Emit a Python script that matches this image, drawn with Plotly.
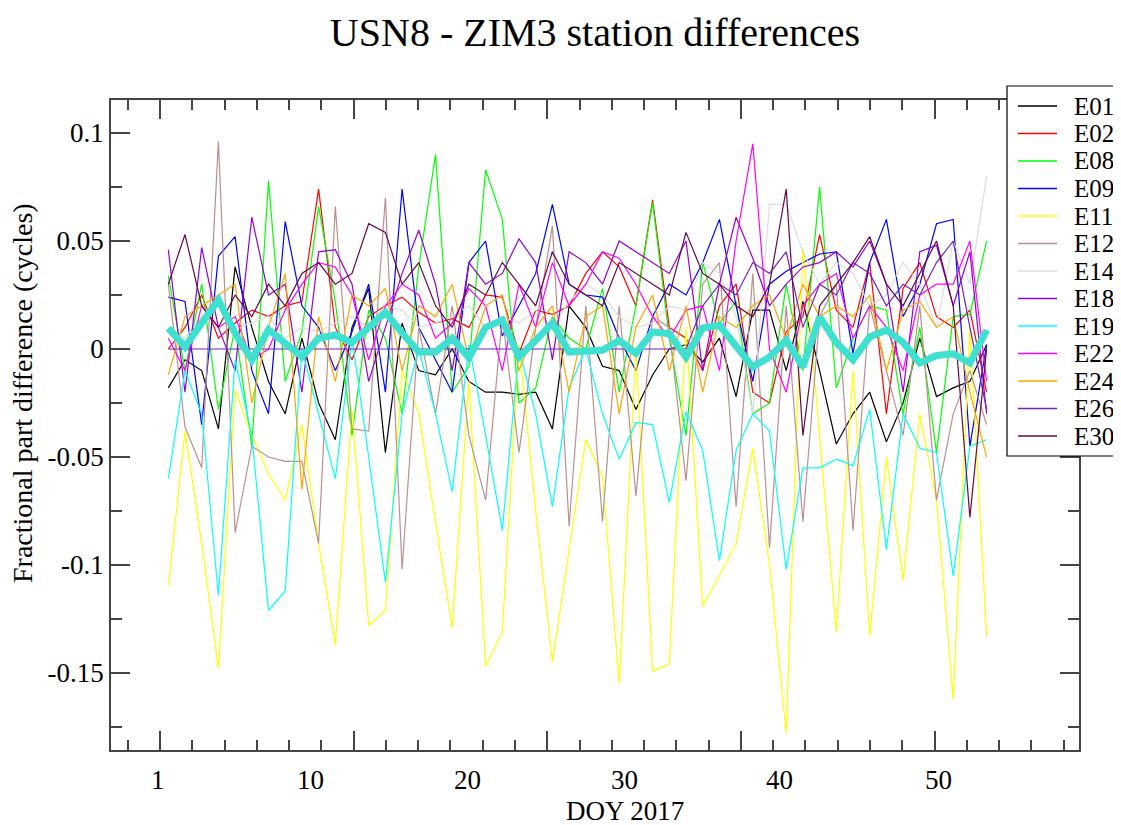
import plotly.graph_objects as go

# ---------------- data ----------------
DAY = list(range(1, 51))  # sample index along DOY 2017

NAMES = ["E01", "E02", "E08", "E09", "E11", "E12", "E14", "E18", "E19", "E22", "E24", "E26", "E30"]
COLORS = ["#000000", "#ff0000", "#00ff00", "#0000ff", "#ffff00", "#bc8f8f", "#dcdcdc",
          "#9400d3", "#00ffff", "#ff00ff", "#ffa500", "#7221bc", "#670748"]

E01 = [-0.018, -0.005, -0.010, -0.037, 0.038, 0.010, -0.015, -0.030, 0.005, -0.025,
       -0.042, 0.010, 0.028, -0.048, 0.012, -0.010, -0.012, 0.000, -0.015, -0.020,
       -0.020, -0.021, -0.020, -0.037, 0.020, 0.010, -0.008, -0.010, -0.028, -0.012,
       0.000, 0.002, -0.006, 0.005, -0.022, 0.018, 0.018, -0.010, 0.022, -0.010,
       -0.044, -0.030, -0.020, -0.043, -0.025, 0.005, -0.022, -0.018, -0.015, 0.002]
E02 = [0.000, 0.010, 0.025, 0.005, 0.012, 0.018, 0.015, 0.020, 0.022, 0.074,
       0.010, -0.005, 0.015, 0.020, 0.024, 0.017, 0.012, 0.014, 0.010, 0.025,
       0.024, -0.002, 0.018, 0.016, 0.020, 0.035, 0.045, 0.038, 0.020, 0.069,
       0.010, 0.005, -0.010, 0.020, 0.030, -0.020, -0.025, 0.008, 0.015, 0.053,
       0.018, 0.010, 0.040, -0.030, 0.028, 0.040, 0.015, 0.010, 0.018, -0.020]
E08 = [0.034, -0.010, 0.030, -0.028, 0.010, -0.045, 0.078, -0.015, 0.008, 0.066,
       0.022, -0.040, 0.018, 0.005, -0.030, 0.038, 0.090, -0.020, -0.008, 0.083,
       0.060, -0.025, -0.018, 0.015, 0.005, 0.000, 0.028, -0.020, 0.020, 0.068,
       0.005, -0.040, 0.040, 0.012, 0.022, -0.030, -0.025, 0.030, -0.010, 0.075,
       -0.018, 0.005, 0.020, 0.018, -0.030, 0.010, -0.048, 0.015, 0.016, 0.050]
E09 = [0.024, 0.022, -0.035, 0.043, 0.052, -0.010, -0.030, 0.059, 0.020, 0.010,
       -0.010, 0.008, 0.030, -0.020, 0.074, 0.010, -0.005, -0.020, 0.040, 0.050,
       0.006, 0.020, 0.035, 0.067, 0.030, 0.025, 0.024, 0.005, -0.010, 0.015,
       0.030, 0.025, 0.040, 0.060, 0.020, -0.015, 0.030, 0.036, 0.040, 0.044,
       0.045, -0.002, 0.040, 0.060, 0.015, 0.030, 0.058, 0.060, -0.045, 0.002]
E11 = [-0.110, -0.038, -0.090, -0.148, -0.019, -0.040, -0.058, -0.070, -0.035, -0.090,
       -0.137, -0.028, -0.128, -0.121, -0.010, -0.030, -0.080, -0.129, -0.015, -0.147,
       -0.131, 0.002, -0.075, -0.145, -0.093, -0.042, -0.059, -0.155, 0.000, -0.149,
       -0.146, 0.010, -0.119, -0.105, -0.090, -0.046, -0.100, -0.178, 0.047, -0.040,
       -0.131, -0.010, -0.133, -0.050, -0.107, -0.030, -0.070, -0.162, 0.010, -0.133]
E12 = [0.030, -0.036, -0.055, 0.096, -0.085, -0.045, -0.050, -0.052, -0.052, -0.090,
       0.066, -0.037, -0.038, 0.070, -0.102, 0.010, -0.030, 0.020, -0.040, -0.070,
       0.015, -0.048, 0.010, 0.057, -0.082, 0.020, -0.080, 0.020, -0.068, 0.015,
       0.010, -0.061, 0.030, 0.040, -0.073, 0.035, -0.092, 0.020, -0.080, 0.015,
       0.030, -0.084, 0.020, -0.010, -0.040, 0.020, -0.070, -0.030, -0.010, -0.035]
E14 = [0.010, 0.005, 0.015, 0.020, 0.010, 0.012, 0.015, 0.005, 0.010, 0.008,
       0.012, 0.015, 0.010, 0.020, 0.018, 0.010, 0.012, 0.015, 0.020, 0.010,
       0.015, 0.012, 0.018, 0.010, 0.022, 0.030, 0.025, 0.015, 0.010, 0.012,
       0.020, 0.018, 0.040, 0.035, 0.015, -0.030, 0.067, 0.067, 0.045, 0.030,
       0.040, 0.035, 0.020, 0.025, 0.040, 0.030, 0.010, 0.050, 0.030, 0.080]
E18 = [0.046, -0.020, 0.047, 0.010, -0.010, 0.061, 0.025, 0.030, -0.020, 0.045,
       0.046, 0.030, -0.015, 0.010, 0.035, 0.055, 0.030, -0.010, 0.040, 0.030,
       0.035, 0.051, 0.040, -0.005, 0.045, 0.040, 0.030, 0.050, 0.045, 0.040,
       0.035, 0.050, -0.010, 0.030, 0.061, 0.042, 0.020, 0.030, 0.038, 0.040,
       0.045, 0.038, 0.050, 0.030, -0.020, 0.045, 0.048, 0.020, 0.045, -0.030]
E19 = [-0.060, -0.010, -0.030, -0.114, -0.005, -0.040, -0.121, -0.112, 0.000, -0.030,
       -0.060, 0.005, -0.050, -0.108, -0.030, 0.000, -0.030, -0.066, 0.002, -0.040,
       -0.084, 0.000, -0.030, -0.073, -0.018, 0.000, -0.030, -0.051, -0.034, -0.035,
       -0.071, -0.029, -0.047, -0.098, -0.047, -0.030, -0.038, -0.102, -0.055, -0.055,
       -0.051, -0.054, -0.028, -0.093, -0.030, -0.046, -0.048, -0.105, -0.045, -0.042]
E22 = [0.005, -0.010, 0.020, 0.010, 0.015, -0.005, 0.000, 0.018, 0.030, 0.040,
       0.038, 0.025, -0.005, 0.020, 0.030, 0.025, 0.005, 0.012, 0.028, 0.020,
       -0.010, 0.030, 0.010, 0.040, 0.020, 0.030, 0.045, 0.042, 0.030, 0.015,
       0.005, 0.018, 0.020, -0.010, 0.050, 0.095, 0.000, -0.020, 0.020, 0.030,
       0.035, 0.005, 0.020, 0.010, -0.010, 0.025, 0.030, 0.030, 0.050, -0.015]
E24 = [-0.012, 0.015, 0.020, 0.025, 0.030, -0.025, 0.010, 0.035, -0.065, 0.015,
       -0.015, 0.025, 0.020, 0.028, -0.010, 0.020, 0.015, 0.030, -0.005, 0.020,
       0.025, -0.010, 0.010, 0.020, -0.020, 0.015, 0.020, -0.030, 0.010, 0.025,
       -0.010, 0.020, -0.020, 0.015, 0.010, 0.020, 0.025, 0.005, 0.030, 0.015,
       0.020, 0.015, 0.025, -0.010, 0.018, 0.022, 0.010, 0.015, -0.020, -0.050]
E26 = [0.000, 0.000, 0.000, 0.000, 0.000, 0.000, 0.000, 0.000, 0.000, 0.000,
       0.000, 0.000, 0.000, 0.000, 0.000, 0.000, 0.000, 0.000, 0.000, 0.000,
       0.000, 0.000, 0.000, 0.000, 0.000, 0.000, 0.000, 0.000, 0.000, 0.000,
       0.000, 0.000, 0.020, 0.030, 0.025, 0.040, 0.035, 0.045, 0.010, 0.030,
       0.025, 0.040, 0.035, 0.020, 0.030, 0.025, 0.040, 0.050, 0.010, -0.028]
E30 = [0.030, 0.053, 0.020, 0.010, 0.025, 0.015, 0.030, 0.020, 0.035, 0.040,
       0.030, 0.035, 0.058, 0.054, 0.030, 0.040, 0.020, 0.010, 0.030, 0.025,
       0.040, 0.030, 0.020, 0.045, 0.030, 0.025, 0.020, 0.040, 0.035, 0.030,
       0.025, 0.054, 0.035, 0.030, 0.020, 0.015, 0.030, 0.074, -0.040, 0.020,
       0.030, 0.040, 0.052, 0.030, 0.020, 0.035, 0.050, 0.020, -0.078, 0.000]
MEAN = [0.0097, 0.0010, 0.0120, 0.0227, 0.0074, -0.0050, 0.0090, 0.0030, -0.0037, 0.0050,
        0.0065, 0.0030, 0.0100, 0.0170, 0.0074, -0.0014, -0.0014, 0.0050, -0.0040, 0.0100,
        0.0134, -0.0037, 0.0040, 0.0120, -0.0014, -0.0014, -0.0006, 0.0040, -0.0020, 0.0079,
        0.0070, -0.0037, 0.0097, 0.0110, 0.0010, -0.0083, -0.0037, 0.0040, -0.0083, 0.0148,
        0.0030, -0.0050, 0.0056, 0.0088, 0.0030, -0.0065, -0.0030, -0.0022, -0.0065, 0.0088]

SERIES = [E01, E02, E08, E09, E11, E12, E14, E18, E19, E22, E24, E26, E30]

X_LABEL_POS = [0.38, 9.54, 18.9, 28.3, 37.6, 47.1]
X_LABEL_TEXT = ["1", "10", "20", "30", "40", "50"]
Y_TICKS = [0.1, 0.05, 0.0, -0.05, -0.1, -0.15]
Y_TICK_TEXT = ["0.1", "0.05", "0", "-0.05", "-0.1", "-0.15"]
Y_MINOR = [0.075, 0.025, -0.025, -0.075, -0.125, -0.175]

FONT = "Liberation Serif, Times New Roman, serif"

# figure geometry (page has an 8px body margin)
W, H = 1113, 817
L, R, T, B = 103, 42, 92, 75
PW, PH = W - L - R, H - T - B


def px(xpix):
    return (xpix - L) / PW


def py(ypix):
    return (H - B - ypix) / PH


# ---------------- figure ----------------
fig = go.Figure()
for name, vals, col in zip(NAMES, SERIES, COLORS):
    fig.add_trace(go.Scatter(x=DAY, y=vals, mode="lines", name=name,
                             line=dict(color=col, width=1.2), showlegend=False))
fig.add_trace(go.Scatter(x=DAY, y=MEAN, mode="lines", showlegend=False,
                         line=dict(color="#40e0d0", width=7)))

axis_line = dict(showline=True, linecolor="#444", linewidth=1.5, mirror="ticks",
                 showgrid=False, zeroline=False, ticks="inside", tickcolor="#444",
                 tickwidth=1.5)

fig.update_layout(
    width=W, height=H,
    paper_bgcolor="white", plot_bgcolor="white",
    margin=dict(l=L, r=R, t=T, b=B),
    font=dict(family=FONT, color="black"),
    title=dict(text="USN8 - ZIM3 station differences", x=0.5, xref="paper",
               xanchor="center", y=1 - 24 / H, yanchor="middle",
               font=dict(family=FONT, size=40, color="black")),
    xaxis=dict(range=[-2.431, 55.533], tickmode="linear", tick0=0.503, dtick=11.595,
               ticklen=19, showticklabels=False,
               minor=dict(tickmode="linear", tick0=0.503, dtick=1.9325, ticks="inside",
                          ticklen=10, tickcolor="#444", tickwidth=1.5),
               **axis_line),
    yaxis=dict(range=[-0.18565, 0.11528], tickmode="array", tickvals=Y_TICKS,
               ticktext=Y_TICK_TEXT, ticklen=19,
               tickfont=dict(family=FONT, size=27, color="black"),
               minor=dict(tickmode="array", tickvals=Y_MINOR, ticks="inside",
                          ticklen=11, tickcolor="#444", tickwidth=1.5),
               **axis_line),
    showlegend=False,
)

annotations = []
shapes = []
for pos, txt in zip(X_LABEL_POS, X_LABEL_TEXT):
    annotations.append(dict(x=pos, xref="x", y=0, yref="paper", yshift=-30,
                            text=txt, showarrow=False, xanchor="center",
                            yanchor="middle",
                            font=dict(family=FONT, size=27, color="black")))
annotations.append(dict(x=px(617), xref="paper", y=0, yref="paper",
                        yshift=-61, text="DOY 2017", showarrow=False,
                        xanchor="center", yanchor="middle",
                        font=dict(family=FONT, size=27, color="black")))
annotations.append(dict(x=0, xref="paper", xshift=14 - L, y=py(385),
                        yref="paper", text="Fractional part difference (cycles)",
                        textangle=-90, showarrow=False, xanchor="center",
                        yanchor="middle",
                        font=dict(family=FONT, size=28, color="black")))

# legend box (drawn as layout items, entries from NAMES / COLORS)
shapes.append(dict(type="rect", xref="paper", yref="paper",
                   x0=px(999), x1=px(1125), y0=py(448), y1=py(78),
                   line=dict(color="black", width=1.2), fillcolor="white", layer="above"))
for k, (name, col) in enumerate(zip(NAMES, COLORS)):
    yc = 98 + 27.5 * k
    shapes.append(dict(type="line", xref="paper", yref="paper",
                       x0=px(1010), x1=px(1049), y0=py(yc), y1=py(yc),
                       line=dict(color=col, width=1.5), layer="above"))
    annotations.append(dict(x=px(1064), xref="paper", y=py(yc), yref="paper",
                            text=name, showarrow=False, xanchor="left",
                            yanchor="middle",
                            font=dict(family=FONT, size=25, color="black")))

fig.update_layout(annotations=annotations, shapes=shapes)

fig.write_html("out.html")
